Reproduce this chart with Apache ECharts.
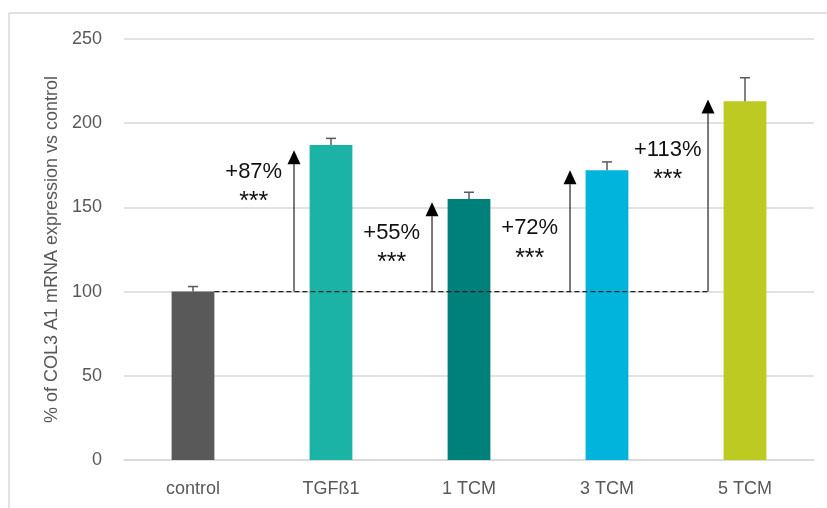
<!DOCTYPE html>
<html>
<head>
<meta charset="utf-8">
<script src="https://cdn.jsdelivr.net/npm/echarts@6/dist/echarts.min.js"></script>
<style>
  html, body { margin: 0; padding: 0; background: #fff; }
  #chart { width: 827px; height: 508px; }
</style>
</head>
<body>
<div id="chart"></div>
<script>
const categories = ["control", "TGFß1", "1 TCM", "3 TCM", "5 TCM"];
const means = [100, 187, 155, 172, 213];
const errors = [3, 4, 4, 5, 14];
const barColors = ["#595959", "#1bb3a6", "#00807a", "#00b4db", "#bdca21"];

const baseline = 100;
// arrows: category index, tip value, label text, label and star heights
const arrowCats = [1, 2, 3, 4];
const arrowTips = [184, 153, 172, 214];
const increaseLabels = ["+87%", "+55%", "+72%", "+113%"];
const labelValues = [171, 135, 138, 184];
const starValues = [153, 117, 119, 166];

const font = "Liberation Sans";
const chart = echarts.init(document.getElementById("chart"));

const arrowOffset = -0.268; // share of the band, left of category centre
const labelOffset = -0.56;

chart.setOption({
  animation: false,
  graphic: [
    { type: "line", shape: { x1: 9, y1: 13, x2: 827, y2: 13 }, style: { stroke: "#d9d9d9", lineWidth: 1.5 } },
    { type: "line", shape: { x1: 9, y1: 13, x2: 9, y2: 508 }, style: { stroke: "#d9d9d9", lineWidth: 1.5 } }
  ],
  grid: { left: 124, right: 13, top: 39, bottom: 48 },
  xAxis: {
    type: "category",
    data: categories,
    axisLine: { lineStyle: { color: "#d9d9d9", width: 1.5 } },
    axisTick: { show: false },
    axisLabel: { color: "#595959", fontSize: 18, fontFamily: font, margin: 20 }
  },
  yAxis: {
    type: "value",
    min: 0,
    max: 250,
    interval: 50,
    name: "% of COL3 A1 mRNA expression vs control",
    nameLocation: "middle",
    nameGap: 62,
    nameTextStyle: { color: "#595959", fontSize: 18, fontFamily: font },
    axisLine: { show: false },
    axisTick: { show: false },
    splitLine: { lineStyle: { color: "#d9d9d9", width: 1.5 } },
    axisLabel: { color: "#595959", fontSize: 18, fontFamily: font, margin: 22 }
  },
  series: [
    {
      type: "bar",
      barWidth: "31%",
      data: means.map((v, i) => ({ value: v, itemStyle: { color: barColors[i] } })),
      z: 3
    },
    {
      type: "custom",
      z: 4,
      data: means.map((v, i) => [i, v, errors[i]]),
      renderItem: (params, api) => {
        const top = api.coord([api.value(0), api.value(1) + api.value(2)]);
        const base = api.coord([api.value(0), api.value(1)]);
        return {
          type: "group",
          children: [
            { type: "line", shape: { x1: base[0], y1: base[1], x2: top[0], y2: top[1] }, style: { stroke: "#595959", lineWidth: 1.5 } },
            { type: "line", shape: { x1: top[0] - 5, y1: top[1], x2: top[0] + 5, y2: top[1] }, style: { stroke: "#595959", lineWidth: 1.5 } }
          ]
        };
      }
    },
    {
      type: "custom",
      z: 5,
      data: [[0, 4, baseline]],
      renderItem: (params, api) => {
        const band = api.size([1, 0])[0];
        const a = api.coord([api.value(0), api.value(2)]);
        const b = api.coord([api.value(1), api.value(2)]);
        return {
          type: "line",
          shape: { x1: a[0] + band * 0.155, y1: a[1], x2: b[0] + band * arrowOffset, y2: b[1] },
          style: { stroke: "#222", lineWidth: 1.2, lineDash: [5, 3] }
        };
      }
    },
    {
      type: "custom",
      z: 5,
      data: arrowCats.map((c, i) => [c, arrowTips[i], labelValues[i], starValues[i]]),
      renderItem: (params, api) => {
        const band = api.size([1, 0])[0];
        const cat = api.value(0);
        const base = api.coord([cat, baseline]);
        const tip = api.coord([cat, api.value(1)]);
        const lab = api.coord([cat, api.value(2)]);
        const star = api.coord([cat, api.value(3)]);
        const x = base[0] + band * arrowOffset;
        const lx = base[0] + band * labelOffset;
        const h = 14, w = 6.5;
        return {
          type: "group",
          children: [
            { type: "line", shape: { x1: x, y1: base[1], x2: x, y2: tip[1] + h }, style: { stroke: "#222", lineWidth: 1.2 } },
            { type: "polygon", shape: { points: [[x, tip[1]], [x - w, tip[1] + h], [x + w, tip[1] + h]] }, style: { fill: "#000" } },
            { type: "text", x: lx, y: lab[1], style: { text: increaseLabels[params.dataIndex], fill: "#111", font: "22px " + font, align: "center", verticalAlign: "middle" } },
            { type: "text", x: lx, y: star[1], style: { text: "***", fill: "#111", font: "25px " + font, align: "center", verticalAlign: "middle" } }
          ]
        };
      }
    }
  ]
});
</script>
</body>
</html>
